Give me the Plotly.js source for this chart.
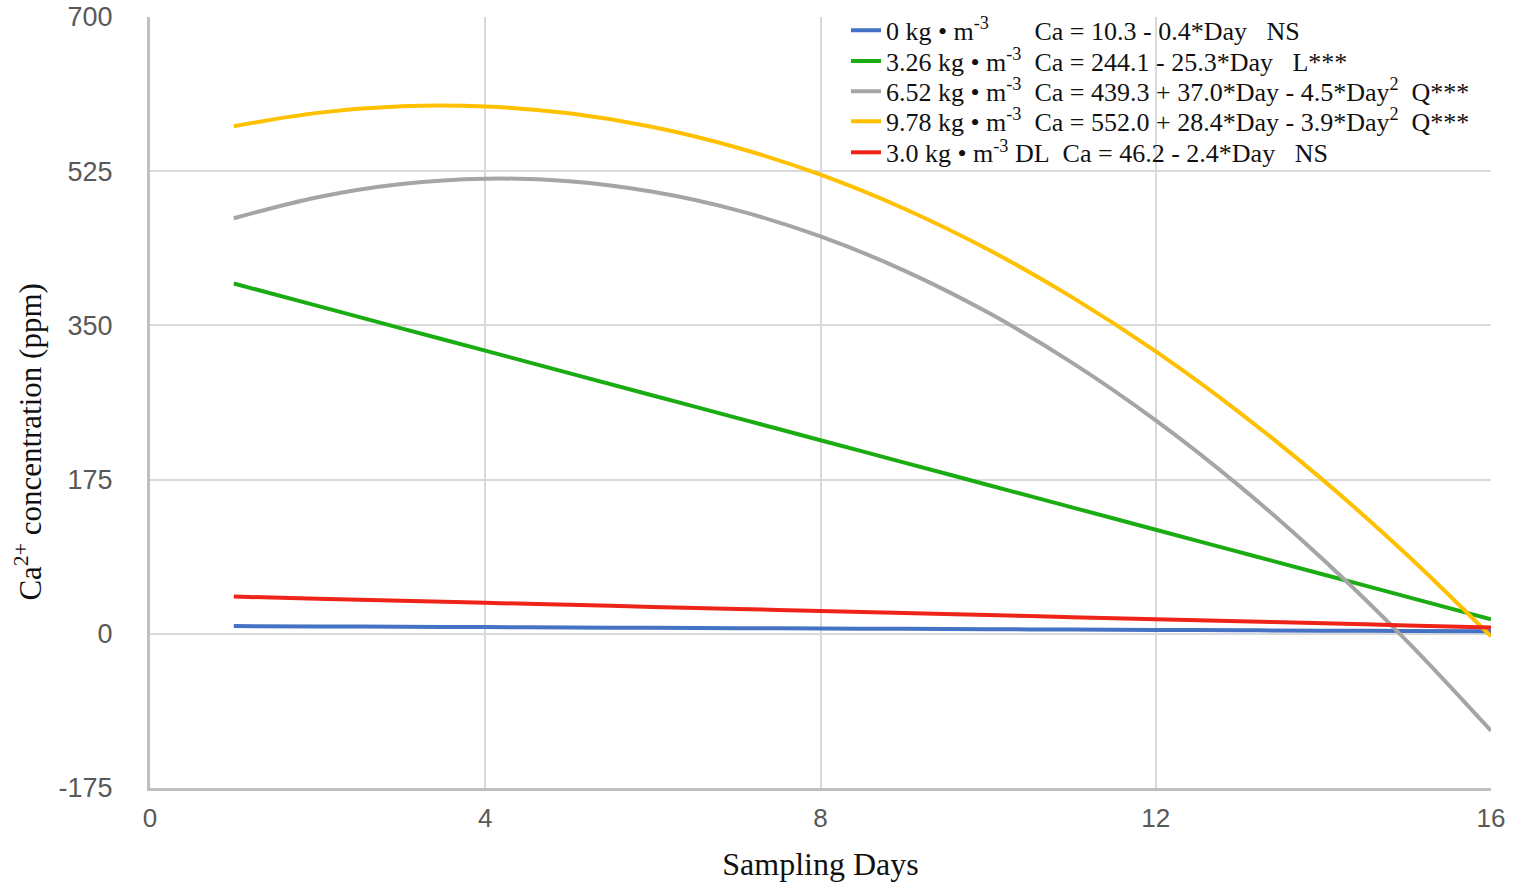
<!DOCTYPE html>
<html>
<head>
<meta charset="utf-8">
<script src="https://cdn.plot.ly/plotly-3.0.1.min.js"></script>
<style>
  html, body { margin: 0; padding: 0; background: #ffffff; }
  #chart { width: 1514px; height: 887px; }
</style>
</head>
<body>
<div id="chart"></div>
<script>
// Sampling days
const days = [1, 2, 3, 4, 5, 6, 7, 8, 9, 10, 11, 12, 13, 14, 15, 16];

// Ca2+ concentration (ppm)
const ca_0kg    = [8.8, 8.4, 8.0, 7.6, 7.2, 6.8, 6.4, 6.0, 5.6, 5.2, 4.8, 4.4, 4.0, 3.6, 3.2, 2.8];
const ca_326kg  = [397.5, 372.1, 346.7, 321.3, 295.9, 270.5, 245.1, 219.7, 194.3, 168.9, 143.5, 118.1, 92.7, 67.3, 41.9, 16.5];
const ca_652kg  = [471.6, 495.5, 510.5, 516.5, 513.6, 501.6, 480.8, 451.0, 412.2, 364.5, 307.8, 242.2, 167.6, 84.0, -8.5, -110.0];
const ca_978kg  = [576.0, 591.2, 598.7, 598.5, 590.7, 575.2, 551.9, 521.0, 482.4, 436.1, 382.1, 320.5, 251.1, 174.1, 89.4, -3.0];
const ca_30kgDL = [42.2, 39.9, 37.5, 35.2, 32.9, 30.5, 28.2, 25.9, 23.5, 21.2, 18.9, 16.5, 14.2, 11.9, 9.5, 7.2];

// Legend labels
const S = '\u00A0';
const names = [
  '0 kg • m<sup>-3</sup>' + S.repeat(7) + 'Ca = 10.3 - 0.4*Day' + S.repeat(3) + 'NS',
  '3.26 kg • m<sup>-3</sup>' + S.repeat(2) + 'Ca = 244.1 - 25.3*Day' + S.repeat(3) + 'L***',
  '6.52 kg • m<sup>-3</sup>' + S.repeat(2) + 'Ca = 439.3 + 37.0*Day - 4.5*Day<sup>2</sup>' + S.repeat(2) + 'Q***',
  '9.78 kg • m<sup>-3</sup>' + S.repeat(2) + 'Ca = 552.0 + 28.4*Day - 3.9*Day<sup>2</sup>' + S.repeat(2) + 'Q***',
  '3.0 kg • m<sup>-3</sup> DL' + S.repeat(2) + 'Ca = 46.2 - 2.4*Day' + S.repeat(3) + 'NS'
];
const series = [ca_0kg, ca_326kg, ca_652kg, ca_978kg, ca_30kgDL];
const colors = ['#4472C4', '#1BAC13', '#A5A5A5', '#FFC000', '#EE2418'];

// Axis ticks
const xTicks = [0, 4, 8, 12, 16];
const yTicks = [-175, 0, 175, 350, 525, 700];

const legendIds = ['legend', 'legend2', 'legend3', 'legend4', 'legend5'];
const legendRowY = [0.9827, 0.9427, 0.9037, 0.8647, 0.8244];

const traces = series.map((ys, i) => ({
  x: days,
  y: ys,
  name: names[i],
  legend: legendIds[i],
  type: 'scatter',
  mode: 'lines',
  line: { color: colors[i], width: 4, shape: 'spline', smoothing: 1 }
}));

const layout = {
  width: 1514,
  height: 887,
  paper_bgcolor: '#ffffff',
  plot_bgcolor: '#ffffff',
  margin: { l: 150, r: 23, t: 17, b: 99, autoexpand: false },
  showlegend: true,
  xaxis: {
    range: [0, 16],
    tickvals: xTicks,
    ticktext: xTicks.map(String),
    showgrid: true,
    gridcolor: '#d9d9d9',
    gridwidth: 2,
    zeroline: false,
    showline: true,
    linecolor: '#bfbfbf',
    linewidth: 3,
    ticks: '',
    ticklabelstandoff: 5,
    tickfont: { family: 'Liberation Sans, Arial, sans-serif', size: 26, color: '#595959' },
    title: {
      text: 'Sampling Days',
      font: { family: 'Liberation Serif, Times New Roman, serif', size: 32, color: '#111111' },
      standoff: 21
    }
  },
  yaxis: {
    range: [-175, 700],
    tickvals: yTicks,
    ticktext: yTicks.map(String),
    showgrid: true,
    gridcolor: '#d9d9d9',
    gridwidth: 2,
    zeroline: false,
    showline: true,
    linecolor: '#bfbfbf',
    linewidth: 3,
    ticks: '',
    ticklabelstandoff: 29,
    tickfont: { family: 'Liberation Sans, Arial, sans-serif', size: 27, color: '#595959' }
  },
  annotations: [{
    text: 'Ca<sup>2+</sup> concentration (ppm)',
    xref: 'paper', yref: 'paper',
    x: -0.0905, y: 0.4488,
    xanchor: 'center', yanchor: 'middle',
    textangle: -90,
    showarrow: false,
    font: { family: 'Liberation Serif, Times New Roman, serif', size: 31, color: '#111111' }
  }]
};

legendIds.forEach((id, i) => {
  layout[id] = {
    x: 0.519, xanchor: 'left',
    y: legendRowY[i], yanchor: 'middle',
    bgcolor: 'rgba(0,0,0,0)',
    borderwidth: 0,
    font: { family: 'Liberation Serif, Times New Roman, serif', size: 26, color: '#111111' },
    itemwidth: 30
  };
});

Plotly.newPlot('chart', traces, layout, { displayModeBar: false, staticPlot: true });
</script>
</body>
</html>
